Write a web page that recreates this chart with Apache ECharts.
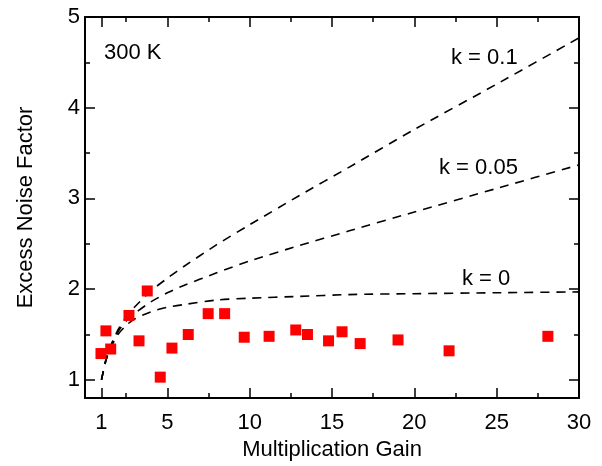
<!DOCTYPE html>
<html>
<head>
<meta charset="utf-8">
<script src="https://cdn.jsdelivr.net/npm/echarts@6/dist/echarts.min.js"></script>
<style>
html,body{margin:0;padding:0;background:#fff;}
#chart{width:602px;height:466px;}
</style>
</head>
<body>
<div id="chart"></div>
<script>
// Measured data points (gain, excess noise factor)
const measGain  = [0.97, 1.27, 1.56, 2.67, 3.28, 3.78, 4.57, 5.28, 6.27, 7.48, 8.48, 9.67, 11.18, 12.80, 13.51, 14.79, 15.61, 16.71, 19.01, 22.11, 28.11];
const measNoise = [1.29, 1.54, 1.34, 1.71, 1.43, 1.98, 1.03, 1.35, 1.50, 1.73, 1.73, 1.47, 1.48, 1.55, 1.50, 1.43, 1.53, 1.40, 1.44, 1.32, 1.48];

// Dashed reference curves
const curveGain = [1, 1.25, 1.5, 2, 2.5, 3, 4, 5, 6, 8, 10, 13, 16, 20, 25, 30];
const curveK01  = [1, 1.21, 1.35, 1.55, 1.69, 1.80, 1.98, 2.12, 2.25, 2.49, 2.71, 3.03, 3.34, 3.76, 4.26, 4.77];
const curveK005 = [1, 1.20, 1.34, 1.53, 1.65, 1.73, 1.86, 1.96, 2.04, 2.18, 2.31, 2.48, 2.64, 2.85, 3.11, 3.37];
const curveK0   = [1, 1.20, 1.33, 1.50, 1.60, 1.67, 1.75, 1.80, 1.83, 1.88, 1.90, 1.92, 1.94, 1.95, 1.96, 1.97];

// Ticks
const xMajorTicks = [1, 5, 10, 15, 20, 25, 30];
const xMinorTicks = [2.5, 7.5, 12.5, 17.5, 22.5, 27.5];
const yMajorTicks = [1, 2, 3, 4, 5];
const yMinorTicks = [1.5, 2.5, 3.5, 4.5];

const FONT = 'Liberation Sans, Arial, sans-serif';
const zip = (a, b) => a.map((v, i) => [v, b[i]]);

function xAx(pos, ticks, len, showLine, labels, name) {
  return {
    type: 'value', position: pos, min: 0, max: 30,
    splitLine: {show: false},
    name: name || '', nameLocation: 'middle', nameGap: 40,
    nameTextStyle: {fontFamily: FONT, fontSize: 22, color: '#000'},
    axisLine: {show: showLine, onZero: false, lineStyle: {color: '#000', width: 2}},
    axisTick: {show: true, inside: true, length: len, customValues: ticks, lineStyle: {color: '#000', width: 1.5}},
    axisLabel: labels ? {show: true, customValues: labels, margin: 14, fontFamily: FONT, fontSize: 22, color: '#000'} : {show: false}
  };
}
function yAx(pos, ticks, len, showLine, labels, name) {
  return {
    type: 'value', position: pos, min: 0.8, max: 5,
    splitLine: {show: false},
    name: name || '', nameLocation: 'middle', nameGap: 48,
    nameTextStyle: {fontFamily: FONT, fontSize: 22, color: '#000'},
    axisLine: {show: showLine, onZero: false, lineStyle: {color: '#000', width: 2}},
    axisTick: {show: true, inside: true, length: len, customValues: ticks, lineStyle: {color: '#000', width: 1.5}},
    axisLabel: labels ? {show: true, customValues: labels, margin: 5, fontFamily: FONT, fontSize: 22, color: '#000'} : {show: false}
  };
}

const dashStyle = {color: '#000', width: 1.6, type: [9, 7]};
function curve(data) {
  return {
    type: 'line', data: zip(curveGain, data), showSymbol: false, symbol: 'none',
    smooth: 0.25, lineStyle: dashStyle, silent: true, z: 2
  };
}

const chart = echarts.init(document.getElementById('chart'), null, {renderer: 'canvas'});
chart.setOption({
  animation: false,
  backgroundColor: '#fff',
  grid: {left: 85, right: 23, top: 17, bottom: 68, containLabel: false},
  xAxis: [
    xAx('bottom', xMajorTicks, 10, true, xMajorTicks, 'Multiplication Gain'),
    xAx('bottom', xMinorTicks, 5, false, null),
    xAx('top', xMajorTicks, 10, true, null),
    xAx('top', xMinorTicks, 5, false, null)
  ],
  yAxis: [
    yAx('left', yMajorTicks, 10, true, yMajorTicks, 'Excess Noise Factor'),
    yAx('left', yMinorTicks, 5, false, null),
    yAx('right', yMajorTicks, 10, true, null),
    yAx('right', yMinorTicks, 5, false, null)
  ],
  series: [
    curve(curveK01),
    curve(curveK005),
    curve(curveK0),
    {
      type: 'scatter', data: zip(measGain, measNoise), symbol: 'rect', symbolSize: 11,
      itemStyle: {color: '#ff0000', opacity: 1}, z: 3
    }
  ],
  graphic: [
    {type: 'text', left: 104, top: 42, style: {text: '300 K', font: '22px ' + FONT, fill: '#000'}},
    {type: 'text', left: 451, top: 47, style: {text: 'k = 0.1', font: '22px ' + FONT, fill: '#000'}},
    {type: 'text', left: 439, top: 157, style: {text: 'k = 0.05', font: '22px ' + FONT, fill: '#000'}},
    {type: 'text', left: 462, top: 268, style: {text: 'k = 0', font: '22px ' + FONT, fill: '#000'}}
  ]
});
</script>
</body>
</html>
